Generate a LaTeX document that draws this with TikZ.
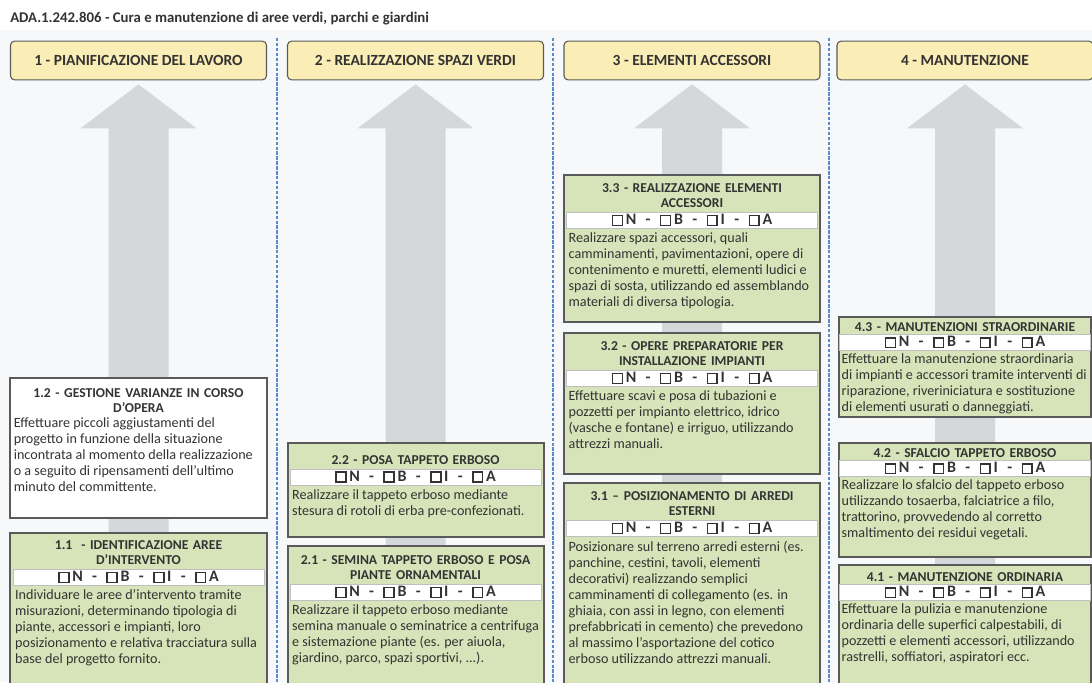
\documentclass[tikz,border=0pt]{standalone}
\usepackage{fontspec}
\setmainfont{Carlito}
\usetikzlibrary{positioning}

\definecolor{giallo}{HTML}{FAEDB5}
\definecolor{verde}{HTML}{D7E3B8}
\definecolor{grigio}{HTML}{D5D8DB}
\definecolor{sfondo}{HTML}{F6F8FA}
\definecolor{bordo}{HTML}{5A5A5A}
\definecolor{barra}{HTML}{BFBFBF}
\definecolor{txt}{HTML}{333333}
\definecolor{blu}{HTML}{5B8BC9}

\newcommand{\cb}{{\setlength\fboxsep{0pt}\setlength\fboxrule{1.2pt}\fbox{\rule{0pt}{6.2pt}\rule{6.2pt}{0pt}}}}
\newcommand{\nbia}{\cb\,N\hspace{7pt}-\hspace{7pt}\cb\,B\hspace{7pt}-\hspace{7pt}\cb\,I\hspace{7pt}-\hspace{7pt}\cb\,A}

\begin{document}
\begin{tikzpicture}[x=0.75pt,y=-0.75pt,
    every node/.style={text=txt, inner sep=0pt},
    fase/.style={draw=bordo, line width=0.8pt, fill=giallo, rounded corners=3pt,
      minimum width=192pt, minimum height=29pt, font=\fontsize{11.6}{13}\selectfont\bfseries},
    scheda/.style={draw=bordo, line width=1.1pt, fill=verde},
    titolo/.style={anchor=north, text width=187pt, align=center, font=\fontsize{10.2}{11.6}\selectfont\bfseries},
    livelli/.style={draw=barra, fill=white, minimum width=188pt, minimum height=12pt,
      font=\fontsize{12}{12}\selectfont\bfseries},
    testo/.style={align=left, font=\fontsize{10.6}{12}\selectfont},
    separatore/.style={draw=blu, line width=0.8pt, dash pattern=on 2.5pt off 1.2pt},
    freccia/.style={fill=grigio}]
      \clip (0,0) rectangle (1092,682);
      \fill [white] (0,0) rectangle (1092,682);
      \fill [sfondo] (0,30) rectangle (1092,682);
      \node [anchor=west, font=\fontsize{11.1}{13}\selectfont\bfseries] (ada) at (10,19)
        {ADA.1.242.806 - Cura e manutenzione di aree verdi, parchi e giardini};

      % colonne
      \foreach \x in {277,553,829}
        \draw [separatore] (\x,38) -- (\x,682);
      \node [fase] (f1) at (138.5,60.5) {1 - PIANIFICAZIONE DEL LAVORO};
      \node [fase] (f2) at (415.5,60.5) {2 - REALIZZAZIONE SPAZI VERDI};
      \node [fase] (f3) at (692,60.5) {3 - ELEMENTI ACCESSORI};
      \node [fase] (f4) at (965,60.5) {4 - MANUTENZIONE};
      \foreach \f in {f1,f2,f3,f4}
        \fill [freccia] ([yshift=-3pt]\f.south) -- ++(58,44) -- ++(-28,0) -- ++(0,600)
          -- ++(-60,0) -- ++(0,-600) -- ++(-28,0) -- cycle;

      % 1 - pianificazione
      \draw [scheda, fill=white] (10,378) rectangle (267,518);
      \node [titolo] (t12) at (138.5,388) {1.2 - GESTIONE VARIANZE IN CORSO\\D'OPERA};
      \node [testo, below=3pt of t12.south west, anchor=north west] (d12) {Effettuare piccoli aggiustamenti del\\progetto in funzione della situazione\\incontrata al momento della realizzazione\\o a seguito di ripensamenti dell'ultimo\\minuto del committente.};
      \draw [scheda] (10,533) rectangle (267,690);
      \node [titolo] (t11) at (138.5,540) {1.1 \ - IDENTIFICAZIONE AREE\\D'INTERVENTO};
      \node [livelli, below=3pt of t11] (l11) {\nbia};
      \node [testo, below=3pt of l11.south west, anchor=north west, xshift=1.5pt] (d11) {Individuare le aree d'intervento tramite\\misurazioni, determinando tipologia di\\piante, accessori e impianti, loro\\posizionamento e relativa tracciatura sulla\\base del progetto fornito.};

      % 2 - spazi verdi
      \draw [scheda] (288,443) rectangle (544,537);
      \node [titolo] (t22) at (415.5,455) {2.2 - POSA TAPPETO ERBOSO};
      \node [livelli, below=3pt of t22] (l22) {\nbia};
      \node [testo, below=3pt of l22.south west, anchor=north west, xshift=1.5pt] (d22) {Realizzare il tappeto erboso mediante\\stesura di rotoli di erba pre-confezionati.};
      \draw [scheda] (288,546) rectangle (544,690);
      \node [titolo] (t21) at (415.5,555) {2.1 - SEMINA TAPPETO ERBOSO E POSA\\PIANTE ORNAMENTALI};
      \node [livelli, below=3pt of t21] (l21) {\nbia};
      \node [testo, below=3pt of l21.south west, anchor=north west, xshift=1.5pt] (d21) {Realizzare il tappeto erboso mediante\\semina manuale o seminatrice a centrifuga\\e sistemazione piante (es. per aiuola,\\giardino, parco, spazi sportivi, ...).};

      % 3 - elementi accessori
      \draw [scheda] (564,175) rectangle (820,322);
      \node [titolo] (t33) at (692,183) {3.3 - REALIZZAZIONE ELEMENTI\\ACCESSORI};
      \node [livelli, below=3pt of t33] (l33) {\nbia};
      \node [testo, below=3pt of l33.south west, anchor=north west, xshift=1.5pt] (d33) {Realizzare spazi accessori, quali\\camminamenti, pavimentazioni, opere di\\contenimento e muretti, elementi ludici e\\spazi di sosta, utilizzando ed assemblando\\materiali di diversa tipologia.};
      \draw [scheda] (564,333) rectangle (820,474);
      \node [titolo] (t32) at (692,341) {3.2 - OPERE PREPARATORIE PER\\INSTALLAZIONE IMPIANTI};
      \node [livelli, below=3pt of t32] (l32) {\nbia};
      \node [testo, below=3pt of l32.south west, anchor=north west, xshift=1.5pt] (d32) {Effettuare scavi e posa di tubazioni e\\pozzetti per impianto elettrico, idrico\\(vasche e fontane) e irriguo, utilizzando\\attrezzi manuali.};
      \draw [scheda] (564,483) rectangle (820,690);
      \node [titolo] (t31) at (692,491) {3.1 -- POSIZIONAMENTO DI ARREDI\\ESTERNI};
      \node [livelli, below=3pt of t31] (l31) {\nbia};
      \node [testo, below=3pt of l31.south west, anchor=north west, xshift=1.5pt] (d31) {Posizionare sul terreno arredi esterni (es.\\panchine, cestini, tavoli, elementi\\decorativi) realizzando semplici\\camminamenti di collegamento (es. in\\ghiaia, con assi in legno, con elementi\\prefabbricati in cemento) che prevedono\\al massimo l'asportazione del cotico\\erboso utilizzando attrezzi manuali.};

      % 4 - manutenzione
      \draw [scheda] (839,317) rectangle (1091,417);
      \node [titolo] (t43) at (965,322) {4.3 - MANUTENZIONI STRAORDINARIE};
      \node [livelli, below=2pt of t43] (l43) {\nbia};
      \node [testo, below=2pt of l43.south west, anchor=north west, xshift=1.5pt] (d43) {Effettuare la manutenzione straordinaria\\di impianti e accessori tramite interventi di\\riparazione, riveriniciatura e sostituzione\\di elementi usurati o danneggiati.};
      \draw [scheda] (839,443) rectangle (1091,557);
      \node [titolo] (t42) at (965,448) {4.2 - SFALCIO TAPPETO ERBOSO};
      \node [livelli, below=2pt of t42] (l42) {\nbia};
      \node [testo, below=2pt of l42.south west, anchor=north west, xshift=1.5pt] (d42) {Realizzare lo sfalcio del tappeto erboso\\utilizzando tosaerba, falciatrice a filo,\\trattorino, provvedendo al corretto\\smaltimento dei residui vegetali.};
      \draw [scheda] (839,565) rectangle (1091,690);
      \node [titolo] (t41) at (965,572) {4.1 - MANUTENZIONE ORDINARIA};
      \node [livelli, below=2pt of t41] (l41) {\nbia};
      \node [testo, below=2pt of l41.south west, anchor=north west, xshift=1.5pt] (d41) {Effettuare la pulizia e manutenzione\\ordinaria delle superfici calpestabili, di\\pozzetti e elementi accessori, utilizzando\\rastrelli, soffiatori, aspiratori ecc.};
\end{tikzpicture}
\end{document}
